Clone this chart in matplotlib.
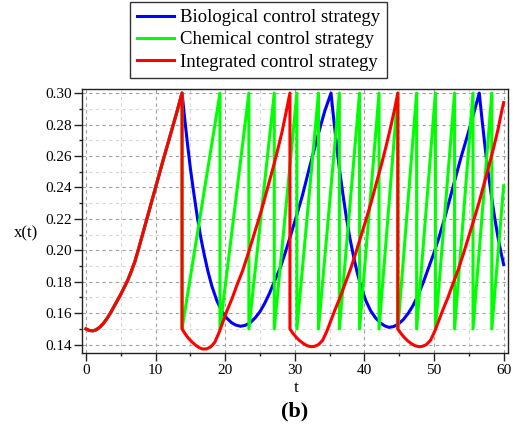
import matplotlib
matplotlib.use('Agg')
import matplotlib.pyplot as plt
from matplotlib.ticker import MultipleLocator

plt.rcParams['font.family'] = ['Liberation Serif', 'DejaVu Serif']

# common rise before the first control action (all three strategies share it)
rise_t = [0.0, 0.5, 1.0, 1.5, 2.0, 2.5, 3.0, 3.5, 4.0, 4.5, 5.0, 5.5, 6.0, 6.5, 7.0,
          7.5, 8.0, 9.0, 10.0, 11.0, 12.0, 13.0, 13.8]
rise_x = [0.1500, 0.1490, 0.1488, 0.1495, 0.1512, 0.1535, 0.1565, 0.1600, 0.1640,
          0.1680, 0.1720, 0.1765, 0.1810, 0.1865, 0.1925, 0.2000, 0.2080, 0.2240,
          0.2400, 0.2560, 0.2715, 0.2870, 0.3000]

# biological control after t = 13.8
bio_t = [14.2, 14.6, 15.0, 15.5, 16.0, 16.5, 17.0, 17.5, 18.1, 18.8, 19.5, 20.2, 20.9,
         21.5, 22.2, 22.9, 23.6, 24.3, 25.0, 25.7, 26.4, 27.1, 27.9, 28.7, 29.5, 30.3,
         31.1, 31.9, 32.7, 33.5, 34.3, 35.2,
         35.6, 36.0, 36.4, 36.9, 37.4, 37.9, 38.4, 38.9, 39.5, 40.2, 40.9, 41.6, 42.3,
         42.9, 43.5, 44.2, 44.9, 45.6, 46.3, 47.0, 47.7, 48.4, 49.1, 49.9, 50.7, 51.5,
         52.3, 53.1, 53.9, 54.7, 55.6, 56.5,
         56.9, 57.3, 57.7, 58.2, 58.7, 59.2, 59.6, 60.0]
bio_x = [0.283, 0.267, 0.252, 0.236, 0.221, 0.208, 0.197, 0.187, 0.177, 0.168, 0.1615,
         0.157, 0.154, 0.1525, 0.1517, 0.1523, 0.154, 0.157, 0.161, 0.1665, 0.173,
         0.1805, 0.1887, 0.1995, 0.211, 0.2227, 0.235, 0.249, 0.2625, 0.276, 0.2885,
         0.300,
         0.283, 0.267, 0.252, 0.236, 0.221, 0.208, 0.197, 0.187, 0.177, 0.168, 0.1615,
         0.157, 0.1538, 0.152, 0.1510, 0.1515, 0.1532, 0.156, 0.160, 0.165, 0.1715,
         0.179, 0.1875, 0.1972, 0.208, 0.220, 0.2332, 0.2465, 0.2595, 0.2714, 0.2855,
         0.300,
         0.283, 0.267, 0.252, 0.236, 0.221, 0.208, 0.199, 0.191]

# chemical control: spray times (x drops from 0.30 to 0.15)
chem_jumps = [13.8, 19.25, 23.4, 27.05, 30.3, 33.4, 36.4, 39.3, 42.1, 44.8, 47.5,
              50.2, 52.95, 55.6, 58.3]
chem_low = 0.15
chem_high = 0.30
chem_end_t = 60.0
chem_end_x = 0.241

# integrated control, one list per cycle after the first release
int_t2 = [13.8, 14.2, 14.7, 15.2, 15.8, 16.3, 16.8, 17.3, 17.9, 18.5, 19.1, 19.7, 20.3,
          21.0, 21.7, 22.5, 23.2, 24.0, 24.7, 25.5, 26.2, 27.0, 27.6, 28.2, 28.8, 29.3]
int_x2 = [0.150, 0.1472, 0.1442, 0.1418, 0.1395, 0.1380, 0.1372, 0.1373, 0.1385, 0.1415,
          0.1475, 0.1548, 0.1620, 0.1695, 0.178, 0.187, 0.1965, 0.208, 0.218, 0.230,
          0.2415, 0.2545, 0.265, 0.276, 0.289, 0.300]
int_t3 = [29.3, 29.7, 30.2, 30.7, 31.3, 31.8, 32.3, 32.8, 33.4, 34.0, 34.6, 35.2, 35.8,
          36.5, 37.2, 38.0, 38.7, 39.5, 40.2, 41.0, 41.7, 42.5, 43.1, 43.7, 44.3, 44.8]
int_x3 = [0.150, 0.1474, 0.1447, 0.1425, 0.1405, 0.1393, 0.1387, 0.1389, 0.1400, 0.1428,
          0.1485, 0.1555, 0.1625, 0.1700, 0.1785, 0.1880, 0.1975, 0.2090, 0.2190, 0.2310,
          0.2425, 0.2555, 0.2660, 0.2770, 0.2890, 0.300]
int_t4 = [44.8, 45.2, 45.7, 46.2, 46.8, 47.3, 47.8, 48.3, 48.9, 49.5, 50.1, 50.7, 51.3,
          52.0, 52.7, 53.5, 54.2, 55.0, 55.7, 56.5, 57.2, 58.0, 58.6, 59.2, 59.7, 60.0]
int_x4 = [0.150, 0.1474, 0.1447, 0.1425, 0.1405, 0.1393, 0.1387, 0.1389, 0.1400, 0.1428,
          0.1485, 0.1555, 0.1625, 0.1700, 0.1785, 0.1880, 0.1975, 0.2090, 0.2190, 0.2310,
          0.2425, 0.2555, 0.2660, 0.2770, 0.2880, 0.2940]

# build the sawtooth for the chemical strategy
chem_t = list(rise_t)
chem_x = list(rise_x)
for i, tj in enumerate(chem_jumps):
    chem_t.append(tj)
    chem_x.append(chem_low)
    if i + 1 < len(chem_jumps):
        chem_t.append(chem_jumps[i + 1])
        chem_x.append(chem_high)
chem_t.append(chem_end_t)
chem_x.append(chem_end_x)

fig = plt.figure(figsize=(5.21, 4.25), dpi=100)
ax = fig.add_axes([0.1574, 0.1687, 0.8177, 0.6212])

lw = 2.2
ax.plot([0.0] + [t for t in rise_t[1:]] + bio_t, rise_x + bio_x, color='#0000ff', lw=lw,
        label='Biological control strategy')
ax.plot(chem_t, chem_x, color='#00ff00', lw=lw, label='Chemical control strategy')
ax.plot(rise_t + int_t2 + int_t3 + int_t4, rise_x + int_x2 + int_x3 + int_x4,
        color='#ff0000', lw=lw, label='Integrated control strategy')

ax.set_xlim(-0.57, 60.63)
ax.set_ylim(0.1345, 0.3024)
ax.set_xticks(range(0, 61, 10))
ax.xaxis.set_minor_locator(MultipleLocator(5))
ax.set_yticks([0.14 + 0.02 * i for i in range(9)])
ax.set_yticklabels(['%.2f' % (0.14 + 0.02 * i) for i in range(9)])
ax.yaxis.set_minor_locator(MultipleLocator(0.01))

ax.tick_params(which='major', direction='out', length=6, width=1, labelsize=11, color='#222222')
ax.tick_params(which='minor', direction='out', length=2.5, width=1, color='#222222')
ax.tick_params(axis='y', which='both', pad=1)
ax.tick_params(axis='x', which='both', pad=2)

ax.grid(which='major', color='#a0a0a0', ls=(0, (3, 3)), lw=0.8)
ax.grid(which='minor', color='#d8d8d8', ls=(0, (3, 3)), lw=0.8)
ax.set_axisbelow(True)
for sp in ax.spines.values():
    sp.set_color('#222222')
    sp.set_linewidth(1.0)

fig.text(296 / 521, 1 - 392 / 425, 't', fontsize=12.5, ha='center', va='baseline')
fig.text(25.5 / 521, 1 - 233 / 425, 'x(t)', fontsize=12, ha='center', va='center')
fig.text(295 / 521, 1 - 411 / 425, '(b)', fontsize=16, fontweight='bold',
         ha='center', va='center')

leg = fig.legend(loc='upper center', bbox_to_anchor=(0.496, 0.995), fontsize=13.5,
                 frameon=True, fancybox=False, edgecolor='black', handlelength=2.0,
                 handletextpad=0.3, labelspacing=0.27, borderpad=0.37, borderaxespad=0)
leg.get_frame().set_linewidth(1.0)

fig.savefig('out.png', dpi=100)
